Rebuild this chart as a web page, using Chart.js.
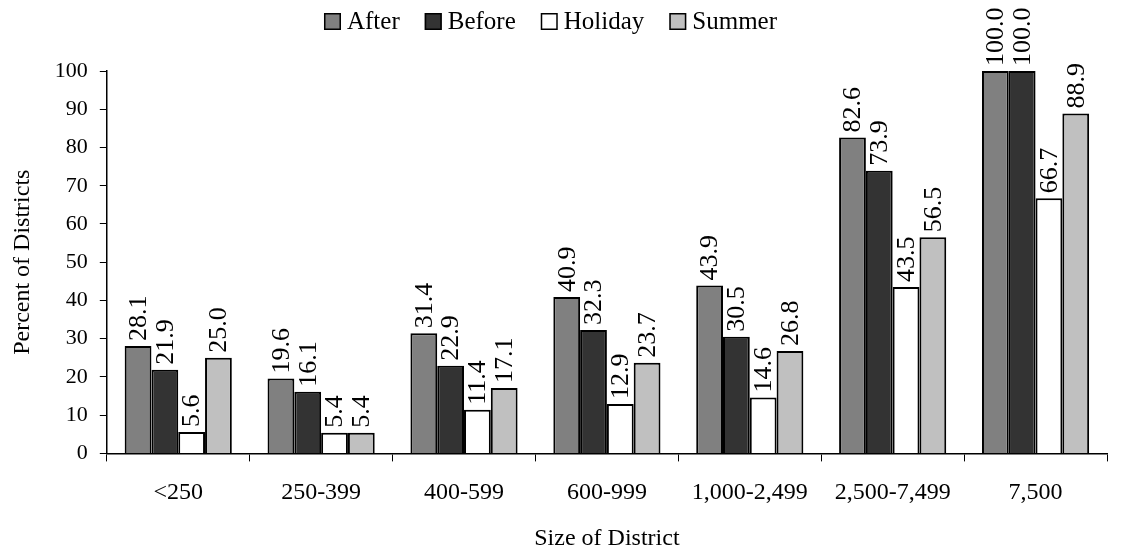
<!DOCTYPE html>
<html>
<head>
<meta charset="utf-8">
<script src="https://cdn.jsdelivr.net/npm/chart.js@4"></script>
<style>
  html, body { margin: 0; padding: 0; background: #fff; }
  #wrap { width: 1125px; height: 550px; position: relative; }
</style>
</head>
<body>
<div id="wrap"><canvas id="chart"></canvas></div>
<script>
// Data
const categories = ['<250', '250-399', '400-599', '600-999', '1,000-2,499', '2,500-7,499', '7,500'];
const afterValues = [28.1, 19.6, 31.4, 40.9, 43.9, 82.6, 100.0];
const beforeValues = [21.9, 16.1, 22.9, 32.3, 30.5, 73.9, 100.0];
const holidayValues = [5.6, 5.4, 11.4, 12.9, 14.6, 43.5, 66.7];
const summerValues = [25.0, 5.4, 17.1, 23.7, 26.8, 56.5, 88.9];

const FONT = '"Liberation Serif", "Times New Roman", serif';

// Rotated value labels above bars
const barLabels = {
    id: 'barLabels',
    afterDatasetsDraw(chart) {
        const ctx = chart.ctx;
        ctx.save();
        ctx.font = '26px ' + FONT;
        ctx.fillStyle = '#000';
        ctx.textAlign = 'left';
        ctx.textBaseline = 'middle';
        chart.data.datasets.forEach((ds, i) => {
            chart.getDatasetMeta(i).data.forEach((bar, j) => {
                ctx.save();
                ctx.translate(bar.x, bar.y - 5);
                ctx.rotate(-Math.PI / 2);
                ctx.fillText(ds.data[j].toFixed(1), 0, 1);
                ctx.restore();
            });
        });
        ctx.restore();
    }
};

// Legend drawn across the top (small gap between swatch and text)
const topLegend = {
    id: 'topLegend',
    afterDraw(chart) {
        const ctx = chart.ctx;
        const box = 17, gapText = 6, gapItem = 25;
        ctx.save();
        ctx.font = '25px ' + FONT;
        ctx.textAlign = 'left';
        ctx.textBaseline = 'alphabetic';
        const items = chart.data.datasets.map(ds => ({
            text: ds.label,
            fill: ds.backgroundColor,
            w: ctx.measureText(ds.label).width
        }));
        const total = items.reduce((s, it) => s + box + gapText + it.w, 0) + gapItem * (items.length - 1);
        let x = chart.width / 2 - 12 - total / 2;
        items.forEach(it => {
            ctx.fillStyle = it.fill;
            ctx.fillRect(x, 13, box, box);
            ctx.strokeStyle = '#000';
            ctx.lineWidth = 1.5;
            ctx.strokeRect(x + 0.75, 13.75, box - 1.5, box - 1.5);
            ctx.fillStyle = '#000';
            ctx.fillText(it.text, x + box + gapText, 29);
            x += box + gapText + it.w + gapItem;
        });
        ctx.restore();
    }
};

function makeSet(label, data, color) {
    return {
        label: label,
        data: data,
        backgroundColor: color,
        borderColor: '#000',
        borderWidth: 2,
        categoryPercentage: 0.75,
        barPercentage: 1.0
    };
}

const ctx = document.getElementById('chart').getContext('2d');
new Chart(ctx, {
    type: 'bar',
    data: {
        labels: categories,
        datasets: [
            makeSet('After', afterValues, '#808080'),
            makeSet('Before', beforeValues, '#333333'),
            makeSet('Holiday', holidayValues, '#ffffff'),
            makeSet('Summer', summerValues, '#c0c0c0')
        ]
    },
    options: {
        responsive: true,
        maintainAspectRatio: false,
        animation: false,
        layout: { padding: { top: 71, right: 18, left: 4, bottom: -7 } },
        plugins: {
            legend: { display: false },
            tooltip: { enabled: false }
        },
        scales: {
            x: {
                offset: true,
                grid: {
                    offset: true,
                    drawOnChartArea: false,
                    color: '#000',
                    tickLength: 8
                },
                border: { color: '#000', width: 1.5 },
                ticks: {
                    font: { family: FONT, size: 24 },
                    color: '#000',
                    padding: 17
                },
                title: {
                    display: true,
                    text: 'Size of District',
                    font: { family: FONT, size: 24 },
                    color: '#000',
                    padding: { top: 0 }
                }
            },
            y: {
                min: 0,
                max: 100,
                ticks: {
                    stepSize: 10,
                    font: { family: FONT, size: 22 },
                    color: '#000',
                    padding: 12
                },
                grid: {
                    drawOnChartArea: false,
                    color: '#000',
                    tickLength: 7
                },
                border: { color: '#000', width: 1.5 },
                title: {
                    display: true,
                    text: 'Percent of Districts',
                    font: { family: FONT, size: 24 },
                    color: '#000',
                    padding: { bottom: 6 }
                }
            }
        }
    },
    plugins: [barLabels, topLegend]
});
</script>
</body>
</html>
